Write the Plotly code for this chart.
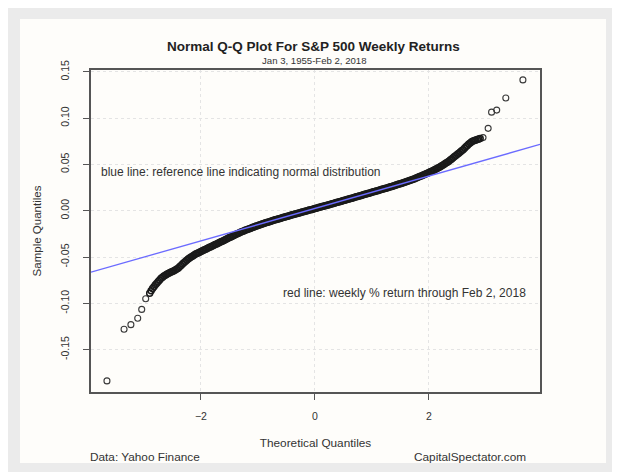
import plotly.graph_objects as go

# ---- data ----
# lower tail (theoretical quantile, sample quantile)
tail_lo_x = [-3.65, -3.35, -3.23, -3.11, -3.04, -2.97]
tail_lo_y = [-0.1837, -0.128, -0.123, -0.116, -0.1065, -0.095]

# dense central band, readings at 0.05 steps
mid_x = [-2.90, -2.85, -2.80, -2.75, -2.70, -2.65, -2.60, -2.55, -2.50, -2.45,
         -2.40, -2.35, -2.30, -2.25, -2.20, -2.15, -2.10, -2.05, -2.00, -1.95,
         -1.90, -1.85, -1.80, -1.75, -1.70, -1.65, -1.60, -1.55, -1.50, -1.45,
         -1.40, -1.35, -1.30, -1.25, -1.20, -1.15, -1.10, -1.05, -1.00, -0.95,
         -0.90, -0.85, -0.80, -0.75, -0.70, -0.65, -0.60, -0.55, -0.50, -0.45,
         -0.40, -0.35, -0.30, -0.25, -0.20, -0.15, -0.10, -0.05, 0.00, 0.05,
         0.10, 0.15, 0.20, 0.25, 0.30, 0.35, 0.40, 0.45, 0.50, 0.55,
         0.60, 0.65, 0.70, 0.75, 0.80, 0.85, 0.90, 0.95, 1.00, 1.05,
         1.10, 1.15, 1.20, 1.25, 1.30, 1.35, 1.40, 1.45, 1.50, 1.55,
         1.60, 1.65, 1.70, 1.75, 1.80, 1.85, 1.90, 1.95, 2.00, 2.05,
         2.10, 2.15, 2.20, 2.25, 2.30, 2.35, 2.40, 2.45, 2.50, 2.55,
         2.60, 2.65, 2.70, 2.75, 2.80, 2.85, 2.90]
mid_y = [-0.0890, -0.0840, -0.0800, -0.0765, -0.0730, -0.0705, -0.0685, -0.0670, -0.0655, -0.0640,
         -0.0620, -0.0590, -0.0560, -0.0535, -0.0510, -0.0490, -0.0470, -0.0455, -0.0440, -0.0425,
         -0.0410, -0.0395, -0.0380, -0.0365, -0.0350, -0.0335, -0.0320, -0.0305, -0.0290, -0.0275,
         -0.0260, -0.0245, -0.0230, -0.0218, -0.0205, -0.0193, -0.0182, -0.0170, -0.0159, -0.0148,
         -0.0138, -0.0128, -0.0118, -0.0108, -0.0098, -0.0089, -0.0080, -0.0071, -0.0062, -0.0053,
         -0.0044, -0.0035, -0.0027, -0.0018, -0.0010, -0.0002, 0.0007, 0.0015, 0.0024, 0.0032,
         0.0041, 0.0049, 0.0058, 0.0066, 0.0075, 0.0083, 0.0092, 0.0101, 0.0110, 0.0118,
         0.0127, 0.0136, 0.0145, 0.0154, 0.0163, 0.0172, 0.0181, 0.0190, 0.0199, 0.0208,
         0.0217, 0.0226, 0.0235, 0.0244, 0.0254, 0.0263, 0.0273, 0.0283, 0.0293, 0.0303,
         0.0313, 0.0324, 0.0335, 0.0347, 0.0359, 0.0372, 0.0385, 0.0399, 0.0413, 0.0428,
         0.0443, 0.0459, 0.0476, 0.0495, 0.0515, 0.0535, 0.0560, 0.0585, 0.0610, 0.0635,
         0.0660, 0.0690, 0.0720, 0.0745, 0.0760, 0.0770, 0.0780]

# dense central band, readings at the in-between positions
mid2_x = [-2.875, -2.825, -2.775, -2.725, -2.675, -2.625, -2.575, -2.525, -2.475, -2.425,
          -2.375, -2.325, -2.275, -2.225, -2.175, -2.125, -2.075, -2.025, -1.975, -1.925,
          -1.875, -1.825, -1.775, -1.725, -1.675, -1.625, -1.575, -1.525, -1.475, -1.425,
          -1.375, -1.325, -1.275, -1.225, -1.175, -1.125, -1.075, -1.025, -0.975, -0.925,
          -0.875, -0.825, -0.775, -0.725, -0.675, -0.625, -0.575, -0.525, -0.475, -0.425,
          -0.375, -0.325, -0.275, -0.225, -0.175, -0.125, -0.075, -0.025, 0.025, 0.075,
          0.125, 0.175, 0.225, 0.275, 0.325, 0.375, 0.425, 0.475, 0.525, 0.575,
          0.625, 0.675, 0.725, 0.775, 0.825, 0.875, 0.925, 0.975, 1.025, 1.075,
          1.125, 1.175, 1.225, 1.275, 1.325, 1.375, 1.425, 1.475, 1.525, 1.575,
          1.625, 1.675, 1.725, 1.775, 1.825, 1.875, 1.925, 1.975, 2.025, 2.075,
          2.125, 2.175, 2.225, 2.275, 2.325, 2.375, 2.425, 2.475, 2.525, 2.575,
          2.625, 2.675, 2.725, 2.775, 2.825, 2.875]
mid2_y = [-0.0865, -0.0820, -0.0782, -0.0748, -0.0717, -0.0695, -0.0678, -0.0662, -0.0648, -0.0630,
          -0.0605, -0.0575, -0.0548, -0.0522, -0.0500, -0.0480, -0.0462, -0.0448, -0.0432, -0.0418,
          -0.0402, -0.0388, -0.0372, -0.0358, -0.0342, -0.0328, -0.0312, -0.0298, -0.0282, -0.0268,
          -0.0252, -0.0238, -0.0224, -0.0211, -0.0199, -0.0188, -0.0176, -0.0165, -0.0154, -0.0143,
          -0.0133, -0.0123, -0.0113, -0.0103, -0.0094, -0.0085, -0.0076, -0.0067, -0.0058, -0.0049,
          -0.0040, -0.0031, -0.0023, -0.0014, -0.0006, 0.0003, 0.0011, 0.0020, 0.0028, 0.0037,
          0.0045, 0.0054, 0.0062, 0.0071, 0.0079, 0.0088, 0.0097, 0.0106, 0.0114, 0.0123,
          0.0132, 0.0141, 0.0150, 0.0159, 0.0168, 0.0177, 0.0186, 0.0195, 0.0204, 0.0213,
          0.0222, 0.0231, 0.0240, 0.0249, 0.0259, 0.0268, 0.0278, 0.0288, 0.0298, 0.0308,
          0.0319, 0.0330, 0.0341, 0.0353, 0.0366, 0.0379, 0.0392, 0.0406, 0.0420, 0.0436,
          0.0451, 0.0468, 0.0486, 0.0505, 0.0525, 0.0548, 0.0572, 0.0598, 0.0622, 0.0648,
          0.0675, 0.0705, 0.0733, 0.0753, 0.0765, 0.0775]

# upper tail
tail_hi_x = [2.95, 3.04, 3.10, 3.19, 3.35, 3.65]
tail_hi_y = [0.079, 0.089, 0.1065, 0.1087, 0.1217, 0.1413]

# reference (qq) line and latest weekly return
qq_intercept = 0.0025
qq_slope = 0.0175
latest_return = -0.0385

x_range = [-3.93, 3.95]
y_range = [-0.1957, 0.152]
x_ticks = [-2, 0, 2]
y_ticks = [-0.15, -0.10, -0.05, 0.00, 0.05, 0.10, 0.15]
y_tick_text = ["-0.15", "-0.10", "-0.05", "0.00", "0.05", "0.10", "0.15"]

FONT = "Liberation Sans, Arial, sans-serif"
TXT = "#333333"
PT = "#1a1a1a"

band = sorted(zip(mid_x + mid2_x, mid_y + mid2_y))
band_x = [p[0] for p in band]
band_y = [p[1] for p in band]

fig = go.Figure()

# tails: thin open circles
fig.add_trace(go.Scatter(
    x=tail_lo_x + tail_hi_x, y=tail_lo_y + tail_hi_y, mode="markers",
    marker=dict(symbol="circle-open", size=6, color="#3a3a3a",
                line=dict(width=1.1, color="#3a3a3a")),
    showlegend=False, hoverinfo="x+y"))

# dense centre: overlapping open circles forming a solid band
fig.add_trace(go.Scatter(
    x=band_x, y=band_y, mode="markers",
    marker=dict(symbol="circle-open", size=6, color=PT,
                line=dict(width=1.5, color=PT)),
    showlegend=False, hoverinfo="x+y"))

fig.add_trace(go.Scatter(
    x=x_range,
    y=[qq_intercept + qq_slope * v for v in x_range],
    mode="lines", line=dict(color="#6b6bff", width=1.3),
    showlegend=False, hoverinfo="skip"))

fig.add_hline(y=latest_return, line=dict(color="#ff4a4a", width=1.3))

# page is offset by the 8px body margin
OFF = 8
W, H = 620 - OFF, 472 - OFF
ML, MT = 91 - OFF, 70 - OFF
PW, PH = 449, 322


def px(xp):
    return (xp - OFF - ML) / PW


def py(yp):
    return (MT + PH - (yp - OFF)) / PH


fig.update_layout(
    width=W, height=H,
    margin=dict(l=ML, r=W - ML - PW, t=MT, b=H - MT - PH, autoexpand=False),
    paper_bgcolor="#ebebeb",
    plot_bgcolor="rgba(0,0,0,0)",
    font=dict(family=FONT, size=10, color=TXT),
    shapes=[
        dict(type="rect", xref="paper", yref="paper", layer="below",
             x0=px(20), x1=px(606), y0=py(463), y1=py(19),
             fillcolor="#fefdfa", line=dict(width=0)),
    ],
    xaxis=dict(
        range=x_range, tickmode="array", tickvals=x_ticks,
        ticks="outside", ticklen=6, tickwidth=1.3, tickcolor="#555555",
        showline=True, mirror=True, linecolor="#555555", linewidth=1.5,
        showgrid=True, gridcolor="#e4e4e4", griddash="dot", gridwidth=1,
        zeroline=False, ticklabelstandoff=8,
        tickfont=dict(size=10.5, color=TXT),
        title=dict(text="Theoretical Quantiles", standoff=17,
                   font=dict(size=11.8, color=TXT)),
    ),
    yaxis=dict(
        range=y_range, tickmode="array", tickvals=y_ticks, ticktext=y_tick_text,
        tickangle=-90,
        ticks="outside", ticklen=6, tickwidth=1.3, tickcolor="#555555",
        showline=True, mirror=True, linecolor="#555555", linewidth=1.5,
        showgrid=True, gridcolor="#e4e4e4", griddash="dot", gridwidth=1,
        zeroline=False, ticklabelstandoff=10,
        tickfont=dict(size=10.5, color=TXT),
        title=dict(text="Sample Quantiles", standoff=15,
                   font=dict(size=11.5, color=TXT)),
    ),
    annotations=[
        dict(text="<b>Normal Q-Q Plot For S&P 500 Weekly Returns</b>",
             xref="paper", yref="paper", x=px(313), y=py(46),
             xanchor="center", yanchor="middle", showarrow=False,
             font=dict(size=13.5, color="#222222")),
        dict(text="Jan 3, 1955-Feb 2, 2018",
             xref="paper", yref="paper", x=px(314), y=py(60),
             xanchor="center", yanchor="middle", showarrow=False,
             font=dict(size=9.6, color=TXT)),
        dict(text="blue line: reference line indicating normal distribution",
             xref="x", yref="y", x=-3.79, y=0.0424,
             xanchor="left", yanchor="middle", showarrow=False,
             font=dict(size=12, color=TXT)),
        dict(text="red line: weekly % return through Feb 2, 2018",
             xref="x", yref="y", x=3.74, y=-0.0891,
             xanchor="right", yanchor="middle", showarrow=False,
             font=dict(size=12, color=TXT)),
        dict(text="Data: Yahoo Finance",
             xref="paper", yref="paper", x=px(88), y=py(457),
             xanchor="left", yanchor="middle", showarrow=False,
             font=dict(size=11.8, color=TXT)),
        dict(text="CapitalSpectator.com",
             xref="paper", yref="paper", x=px(528), y=py(457),
             xanchor="right", yanchor="middle", showarrow=False,
             font=dict(size=11.8, color=TXT)),
    ],
)

fig.write_html("out.html")
